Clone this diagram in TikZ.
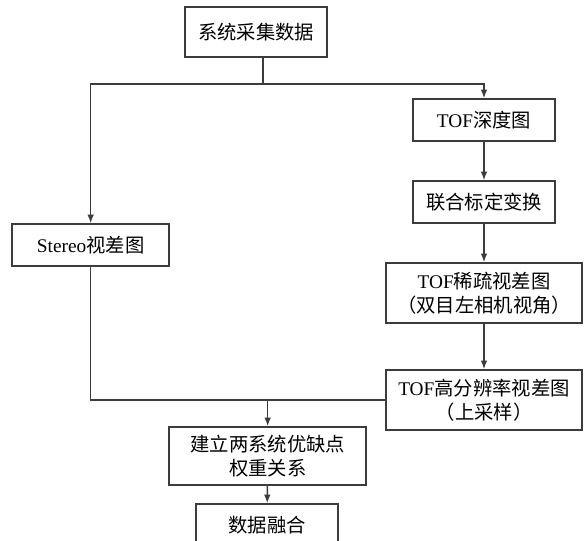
\documentclass[tikz,border=0pt]{standalone}
\usepackage{fontspec}
\setmainfont{Liberation Serif}
\newfontfamily\cjk{Noto Sans CJK SC}
\usetikzlibrary{positioning,arrows.meta,calc}
\definecolor{ink}{RGB}{60,60,60}

\begin{document}
\begin{tikzpicture}[
  font=\fontsize{16.5}{20.5}\selectfont,
  >={Latex[length=2.6mm,width=2.0mm]},
  box/.style={draw=ink, line width=1.3pt, align=center, inner sep=2pt, fill=white},
  flow/.style={->, draw=ink, line width=1.3pt},
  link/.style={draw=ink, line width=1.3pt}
]
\useasboundingbox (0,0) rectangle (17.64,-16.23);
\clip (0,0) rectangle (17.64,-16.23);

% ---------------- source ----------------
\node (acq) at (7.68,-0.96) [box, minimum width=4.26cm, minimum height=1.5cm] {\cjk 系统采集数据};

% ---------------- TOF branch ----------------
\node (tofd)   at (14.52,-3.6)  [box, minimum width=4.26cm, minimum height=1.26cm] {TOF{\cjk 深度图}};
\node (calib)  at (14.52,-6.06) [box, minimum width=4.26cm, minimum height=1.26cm] {\cjk 联合标定变换};
\node (sparse) at (14.52,-8.79) [box, minimum width=5.88cm, minimum height=1.8cm] {TOF{\cjk 稀疏视差图}\\{\cjk （双目左相机视角）}};
\node (hires)  at (14.52,-12.0) [box, minimum width=5.88cm, minimum height=1.8cm] {TOF{\cjk 高分辨率视差图}\\{\cjk （上采样）}};

% ---------------- stereo branch ----------------
\node (stereo) at (2.72,-7.35) [box, minimum width=4.71cm, minimum height=1.26cm] {Stereo{\cjk 视差图}};

% ---------------- fusion ----------------
\node (weight) at (8.03,-13.68) [box, minimum width=5.91cm, minimum height=1.74cm] {\cjk 建立两系统优缺点\\\cjk 权重关系};
\node (fuse)   at (8.01,-15.75) [box, minimum width=4.26cm, minimum height=1.26cm] {\cjk 数据融合};

% ---------------- connectors ----------------
\coordinate (split) at (7.89,-2.52);
\coordinate (merge) at (weight |- hires.west);
\draw[link] (acq.south -| split) -- (split);
\draw[flow] (split) -| (tofd.north);
\draw[flow] (split) -| (stereo.north);
\draw[flow] (tofd) -- (calib);
\draw[flow] (calib) -- (sparse);
\draw[flow] (sparse) -- (hires);
\draw[link] (stereo.south) |- (hires.west);
\draw[flow] (merge) -- (weight.north);
\draw[flow] (weight) -- (fuse);

\end{tikzpicture}
\end{document}
